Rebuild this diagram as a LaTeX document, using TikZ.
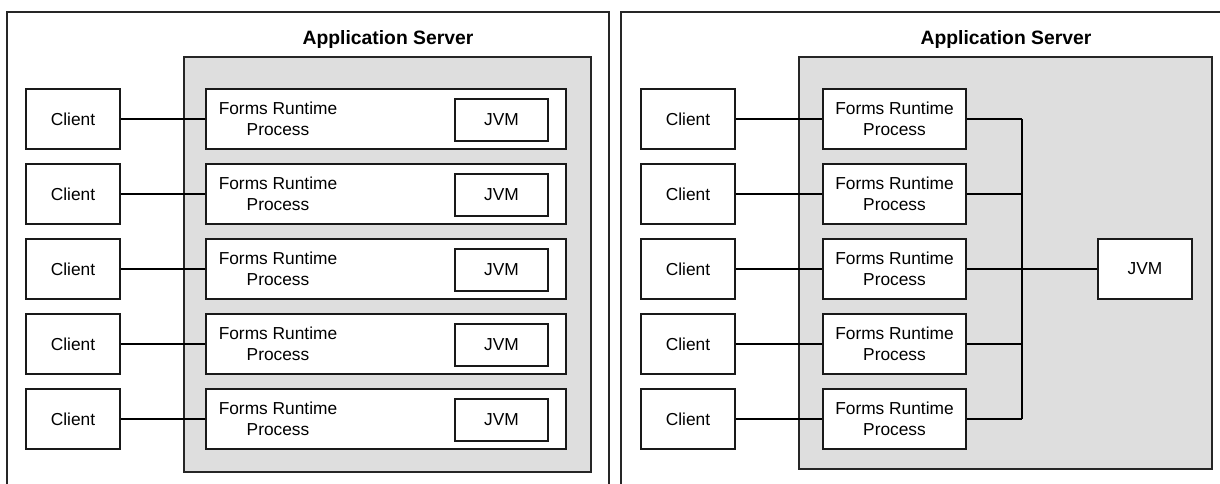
\documentclass[tikz,border=0pt]{standalone}
\usepackage{fontspec}
\setmainfont{Liberation Sans}
\begin{document}
\begin{tikzpicture}[x=0.75pt,y=-0.75pt,
  frame/.style={draw=black!85, line width=1.1pt},
  server/.style={draw=black!85, line width=1.1pt, fill=black!13},
  boxstyle/.style={draw=black!90, line width=1.2pt, fill=white, inner sep=0pt, font=\fontsize{13}{15.5}\selectfont},
  clientbox/.style={boxstyle, minimum width=70.5pt, minimum height=45pt},
  procL/.style={boxstyle, minimum width=270pt, minimum height=45pt},
  procR/.style={boxstyle, minimum width=107.25pt, minimum height=45pt, align=center},
  jvmL/.style={boxstyle, minimum width=69.75pt, minimum height=31.5pt},
  jvmR/.style={boxstyle, minimum width=70.5pt, minimum height=45pt},
  ptext/.style={inner sep=0pt, align=center, font=\fontsize{13}{15.5}\selectfont},
  title/.style={inner sep=0pt, font=\fontsize{14.5}{17}\selectfont\bfseries},
  conn/.style={draw=black, line width=1pt}
]
\useasboundingbox (0,0) rectangle (1220,483);
\clip (0,0) rectangle (1220,483);
% outer frames
\draw[frame] (7,520) -- (7,12) -- (609,12) -- (609,520);
\draw[frame] (621,520) -- (621,12) -- (1240,12);
% titles
\node[title] (titleL) at (388,39) {Application Server};
\node[title] (titleR) at (1006,39) {Application Server};
% grey servers
\draw[server] (184,57) rectangle (591,472);
\draw[server] (799,57) rectangle (1212,469);
% left panel
\foreach \k in {0,...,4} {
  \pgfmathsetmacro{\yc}{119+75*\k}
  \node[clientbox] (cL\k) at (73,\yc) {Client};
  \node[procL] (pL\k) at (386,\yc) {};
  \node[ptext] (tL\k) at (278,\yc) {Forms Runtime\\Process};
  \node[jvmL] (jL\k) at (501.5,\yc+1) {JVM};
  \draw[conn] (cL\k) -- (pL\k);
}
% right panel
\coordinate (busTop) at (1022,119);
\coordinate (busBot) at (1022,419);
\draw[conn] (busTop) -- (busBot);
\foreach \k in {0,...,4} {
  \pgfmathsetmacro{\yc}{119+75*\k}
  \node[clientbox] (cR\k) at (688,\yc) {Client};
  \node[procR] (pR\k) at (894.5,\yc) {Forms Runtime\\Process};
  \coordinate (b\k) at (1022,\yc);
  \draw[conn] (cR\k) -- (pR\k);
  \draw[conn] (pR\k.east) -- (b\k);
}
\node[jvmR] (jR) at (1145,269) {JVM};
\draw[conn] (b2) -- (jR);
\end{tikzpicture}
\end{document}
